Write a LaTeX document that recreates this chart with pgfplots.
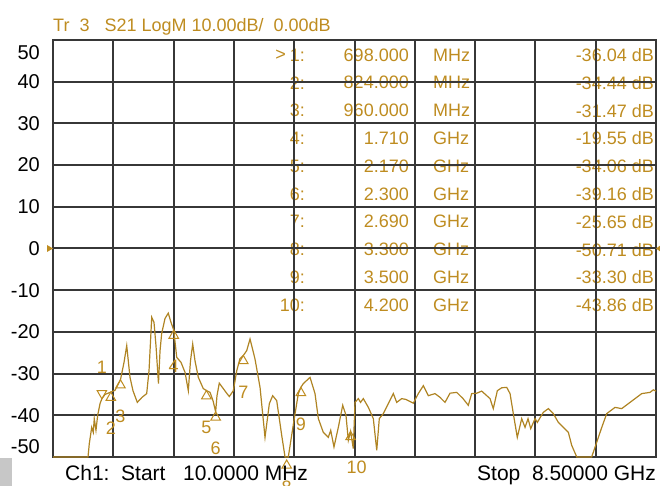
\documentclass[border=0pt]{standalone}
\usepackage{fontspec}
\setmainfont{Liberation Sans}
\usepackage{pgfplots}
\pgfplotsset{compat=1.18}
\definecolor{trace}{RGB}{175,132,35}
\definecolor{gold}{RGB}{190,140,32}
\definecolor{gridc}{RGB}{55,55,55}
\newcommand\gfont{\fontsize{18}{20}\selectfont}

\begin{document}
\begin{tikzpicture}
\path[use as bounding box] (0pt,0pt) rectangle (660pt,486pt);

% marker table (drawn first so the grid lies over it)
\begin{scope}[every node/.style={inner sep=0pt, text=gold, font=\gfont}]
\node[anchor=east] at (286pt,431pt) {>};
\foreach \k/\f/\u/\v in {1/698.000/MHz/-36.04, 2/824.000/MHz/-34.44, 3/960.000/MHz/-31.47,
  4/1.710/GHz/-19.55, 5/2.170/GHz/-34.06, 6/2.300/GHz/-39.16, 7/2.690/GHz/-25.65,
  8/3.300/GHz/-50.71, 9/3.500/GHz/-33.30, 10/4.200/GHz/-43.86}{
  \pgfmathsetmacro\yy{431-27.8*(\k-1)}
  \node[anchor=east] at (305pt,\yy pt) {\k:};
  \node[anchor=east] at (409pt,\yy pt) {\f};
  \node[anchor=west] at (433pt,\yy pt) {\u};
  \node[anchor=east] at (654pt,\yy pt) {\v\ dB};
}
\end{scope}

\begin{axis}[
  at={(53pt,29pt)}, anchor=south west,
  scale only axis, width=603pt, height=417pt,
  xmin=0.01, xmax=8.5, ymin=-50, ymax=50,
  xtick={0.01,0.859,1.708,2.557,3.406,4.255,5.104,5.953,6.802,7.651,8.5},
  xticklabels={},
  ytick={-50,-40,...,50},
  yticklabels={{\raisebox{10pt}[0.7em][0pt]{-50}},-40,-30,-20,-10,0,10,20,30,40,{\raisebox{-13pt}[0.7em][0pt]{50}}},
  yticklabel style={inner sep=0pt, xshift=-13pt, font=\fontsize{20}{22}\selectfont},
  major tick length=0pt,
  xmajorgrids, ymajorgrids,
  major grid style={draw=gridc, line width=2pt},
  axis line style={draw=gridc, line width=2pt},
  clip=false,
]
\addplot[trace, line width=1.2pt] coordinates {
(0.010,-50) (0.503,-50) (0.521,-46.8) (0.555,-42.9) (0.577,-44.1) (0.591,-40.8) (0.615,-43.6)
(0.639,-40.0) (0.672,-37.2) (0.698,-36.04) (0.742,-35.0) (0.824,-34.44) (0.883,-34.0)
(0.960,-31.47) (1.010,-27.3) (1.048,-23.3) (1.094,-30.9) (1.136,-34.1) (1.197,-36.9)
(1.263,-35.7) (1.329,-34.8) (1.362,-29.3) (1.400,-16.5) (1.432,-17.7) (1.460,-23.3)
(1.495,-32.4) (1.517,-24.5) (1.540,-20.4) (1.587,-16.8) (1.633,-15.5) (1.671,-17.7)
(1.710,-19.55) (1.752,-26.1) (1.812,-27.3) (1.869,-29.7) (1.915,-34.1) (1.946,-26.9)
(1.977,-22.9) (2.009,-26.9) (2.056,-30.9) (2.126,-33.6) (2.170,-34.06) (2.221,-34.5)
(2.263,-36.5) (2.300,-39.16) (2.319,-35.3) (2.351,-32.3) (2.408,-33.6) (2.446,-34.5)
(2.492,-35.5) (2.549,-34.1) (2.597,-29.3) (2.643,-26.4) (2.690,-25.65) (2.737,-24.5)
(2.784,-21.7) (2.854,-26.5) (2.925,-33.3) (2.995,-45.3) (3.056,-37.2) (3.103,-35.3)
(3.160,-36.5) (3.230,-44.8) (3.277,-50) (3.323,-50) (3.403,-41.2) (3.464,-34.8)
(3.500,-33.30) (3.534,-32.4) (3.629,-30.9) (3.699,-34.8) (3.746,-40.8) (3.816,-44.1)
(3.886,-45.3) (3.920,-43.6) (3.966,-47.6) (4.027,-42.9) (4.089,-37.6) (4.135,-40.0)
(4.168,-46.0) (4.200,-43.86) (4.238,-48.0) (4.262,-36.9) (4.309,-36.0) (4.340,-36.9)
(4.379,-36.0) (4.450,-38.1) (4.520,-40.8) (4.568,-48.4) (4.604,-40.8) (4.661,-39.6)
(4.731,-37.2) (4.802,-34.8) (4.849,-36.9) (4.920,-36.0) (4.980,-36.2) (5.083,-37.1)
(5.153,-34.8) (5.224,-32.9) (5.294,-35.3) (5.388,-34.8) (5.459,-35.7) (5.529,-36.9)
(5.600,-34.7) (5.694,-34.5) (5.783,-36.0) (5.857,-37.6) (5.905,-34.8) (5.976,-34.7)
(6.046,-34.2) (6.163,-36.0) (6.209,-38.4) (6.266,-34.1) (6.328,-33.4) (6.398,-33.3)
(6.445,-34.8) (6.491,-39.6) (6.547,-45.3) (6.609,-40.8) (6.656,-42.9) (6.698,-40.8)
(6.736,-43.2) (6.797,-40.8) (6.829,-41.7) (6.913,-39.3) (6.984,-38.4) (7.054,-39.6)
(7.125,-41.7) (7.195,-42.9) (7.266,-44.1) (7.313,-47.2) (7.384,-50) (7.594,-50)
(7.665,-46.5) (7.736,-42.9) (7.806,-39.6) (7.923,-38.1) (8.017,-38.4) (8.134,-36.9)
(8.228,-35.7) (8.299,-34.8) (8.416,-34.5) (8.462,-33.9) (8.500,-34.2)
};
% marker 1: triangle pointing down, label above
\addplot[only marks, mark=triangle, mark size=5.5pt,
  mark options={draw=gold, fill=white, line width=1pt, yshift=5.5pt, rotate=180},
  point meta=explicit symbolic, nodes near coords,
  nodes near coords style={text=gold, font=\gfont, anchor=center, yshift=26pt}]
  coordinates {(0.698,-36.04) [1]};
% markers 2 to 9 (not 8): triangle pointing up, label below
\addplot[only marks, mark=triangle, mark size=5.5pt,
  mark options={draw=gold, fill=white, line width=1pt, yshift=-5.5pt},
  point meta=explicit symbolic, nodes near coords,
  nodes near coords style={text=gold, font=\gfont, anchor=center, yshift=-31pt}]
  coordinates {(0.824,-34.44) [2] (0.960,-31.47) [3] (1.710,-19.55) [4] (2.170,-34.06) [5]
  (2.300,-39.16) [6] (2.690,-25.65) [7] (3.500,-33.30) [9]};
% marker 8, below the frame
\addplot[only marks, mark=triangle, mark size=5.5pt,
  mark options={draw=gold, fill=white, line width=1pt, yshift=-5.5pt},
  point meta=explicit symbolic, nodes near coords,
  nodes near coords style={text=gold, font=\gfont, anchor=center, yshift=-22pt}]
  coordinates {(3.300,-50.71) [8]};
% marker 10
\addplot[only marks, mark=triangle, mark size=5.5pt,
  mark options={draw=gold, fill=white, line width=1pt, yshift=-5.5pt},
  point meta=explicit symbolic, nodes near coords,
  nodes near coords style={text=gold, font=\gfont, anchor=center, yshift=-30pt, xshift=6pt}]
  coordinates {(4.200,-43.86) [10]};
% reference level arrows
\fill[gold] (rel axis cs:0,0.5) -- ++(-6pt,3.5pt) -- ++(0pt,-7pt) -- cycle;
\fill[gold] (rel axis cs:1,0.5) -- ++(5pt,3.5pt) -- ++(0pt,-7pt) -- cycle;
\end{axis}

\node[anchor=base west, inner sep=0pt, text=gold, font=\gfont] at (53pt,454pt)
  {Tr\ \ 3\ \ \ S21 LogM 10.00dB/\ \ 0.00dB};
\node[anchor=base west, inner sep=0pt, font=\fontsize{21}{23}\selectfont] at (65pt,5pt)
  {Ch1:\ \ Start\ \ \ 10.0000 MHz};
\node[anchor=base east, inner sep=0pt, font=\fontsize{21}{23}\selectfont] at (656pt,5pt)
  {Stop\ \ 8.50000 GHz};
\fill[black!22] (0pt,0pt) rectangle (12pt,28pt);
\end{tikzpicture}
\end{document}
